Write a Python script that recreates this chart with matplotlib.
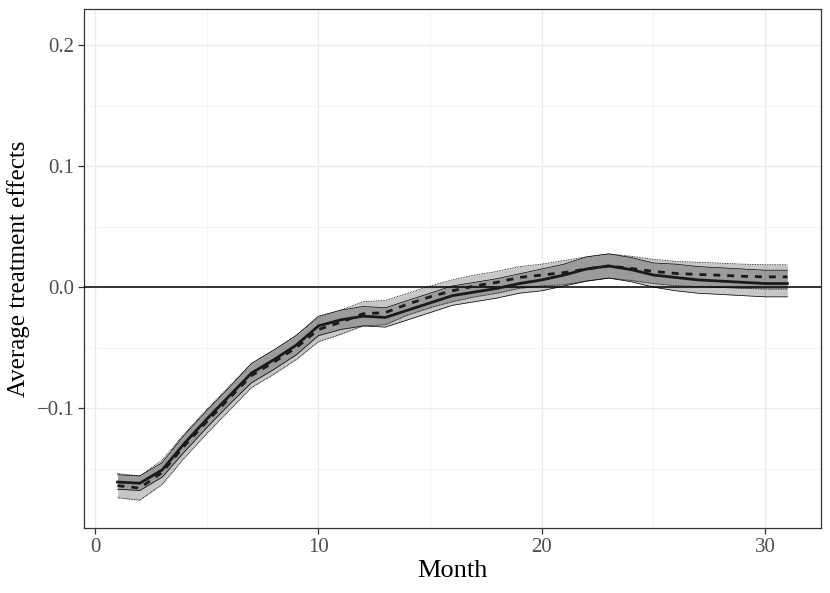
import matplotlib
matplotlib.use("Agg")
import matplotlib.pyplot as plt
import numpy as np

# ---- data ----
months = list(range(1, 32))

est_solid = [-0.161, -0.162, -0.151, -0.129, -0.109, -0.090, -0.071, -0.060, -0.048, -0.032,
             -0.027, -0.024, -0.025, -0.019, -0.013, -0.007, -0.004, -0.001, 0.003, 0.006,
             0.010, 0.015, 0.0175, 0.0145, 0.010, 0.008, 0.006, 0.005, 0.004, 0.003, 0.003]
hw_solid = [0.006, 0.006, 0.006, 0.007, 0.007, 0.007, 0.008, 0.008, 0.008, 0.008,
            0.008, 0.008, 0.008, 0.008, 0.008, 0.008, 0.008, 0.008, 0.008, 0.009,
            0.009, 0.010, 0.010, 0.010, 0.010, 0.011, 0.011, 0.011, 0.011, 0.011, 0.011]

est_dashed = [-0.164, -0.166, -0.153, -0.131, -0.111, -0.092, -0.073, -0.062, -0.050, -0.035,
              -0.029, -0.022, -0.021, -0.014, -0.008, -0.003, 0.001, 0.004, 0.008, 0.010,
              0.012, 0.015, 0.0175, 0.0155, 0.013, 0.0113, 0.0105, 0.0098, 0.009, 0.0085, 0.0085]
hw_dashed = [0.010, 0.010, 0.010, 0.010, 0.010, 0.010, 0.010, 0.010, 0.010, 0.010,
             0.010, 0.010, 0.010, 0.009, 0.009, 0.009, 0.009, 0.009, 0.009, 0.009,
             0.010, 0.010, 0.010, 0.010, 0.010, 0.010, 0.010, 0.010, 0.010, 0.010, 0.010]

x_major = [0, 10, 20, 30]
x_minor = [5, 15, 25]
y_major = [-0.1, 0.0, 0.1, 0.2]
y_minor = [-0.15, -0.05, 0.05, 0.15]

plt.rcParams["font.family"] = ["Liberation Serif", "DejaVu Serif"]

fig = plt.figure(figsize=(8.3, 5.93), dpi=100)
ax = fig.add_axes([0.1012, 0.1096, 0.8878, 0.8752])

m = np.array(months)
es, hs = np.array(est_solid), np.array(hw_solid)
ed, hd = np.array(est_dashed), np.array(hw_dashed)

fill_kw = dict(color="black", alpha=0.22, linewidth=0, zorder=2)
ax.fill_between(m, ed - hd, ed + hd, **fill_kw)
ax.fill_between(m, es - hs, es + hs, **fill_kw)

# ribbon borders
ax.plot(m, ed - hd, color="black", lw=0.6, ls=(0, (1, 1)), zorder=3)
ax.plot(m, ed + hd, color="black", lw=0.6, ls=(0, (1, 1)), zorder=3)
ax.plot(m, es - hs, color="black", lw=0.5, zorder=3)
ax.plot(m, es + hs, color="black", lw=0.5, zorder=3)

ax.axhline(0, color="black", lw=1.1, zorder=4)

ax.plot(m, es, color="#1a1a1a", lw=2.0, zorder=5)
ax.plot(m, ed, color="#1a1a1a", lw=2.0, ls=(0, (2.5, 2.5)), zorder=5)

ax.set_xlim(-0.5, 32.5)
ax.set_ylim(-0.199, 0.2298)
ax.set_xticks(x_major)
ax.set_xticks(x_minor, minor=True)
ax.set_yticks(y_major)
ax.set_yticks(y_minor, minor=True)
ax.set_xticklabels([str(v) for v in x_major])
ax.set_yticklabels(["\u22120.1", "0.0", "0.1", "0.2"])

ax.grid(True, which="major", color="#ebebeb", lw=1.0, zorder=0)
ax.grid(True, which="minor", color="#f3f3f3", lw=0.6, zorder=0)
ax.set_axisbelow(True)

for s in ax.spines.values():
    s.set_color("#333333")
    s.set_linewidth(0.9)
ax.tick_params(which="major", length=4, width=0.9, color="#333333",
               labelsize=15, labelcolor="#4d4d4d", pad=3)
ax.tick_params(which="minor", length=0)

ax.set_xlabel("Month", fontsize=19, labelpad=2)
ax.set_ylabel("Average treatment effects", fontsize=18, labelpad=5)

fig.savefig("out.png", dpi=100)
